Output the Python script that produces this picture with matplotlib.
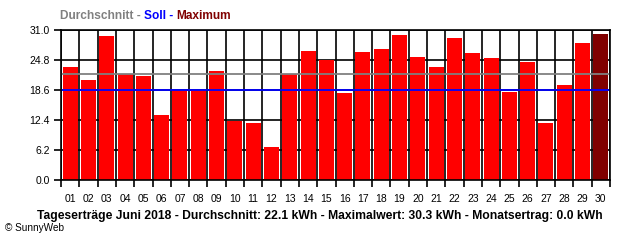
import numpy as np
import matplotlib
matplotlib.use("Agg")
import matplotlib.pyplot as plt

plt.rcParams['font.family'] = ['Liberation Sans', 'DejaVu Sans']

days = ["%02d" % d for d in range(1, 31)]
yields = [23.4, 20.7, 29.8, 21.9, 21.6, 13.5, 18.6, 18.6, 22.6, 12.3,
          11.8, 6.9, 21.9, 26.7, 24.9, 18.0, 26.5, 27.1, 30.0, 25.5,
          23.4, 29.4, 26.3, 25.3, 18.2, 24.4, 11.8, 19.7, 28.4, 30.3]
soll = 18.6
yticks = [0.0, 6.2, 12.4, 18.6, 24.8, 31.0]

title_parts = [("Durchschnitt - ", "#808080"), ("Soll - ", "#0000ff"), ("Maximum", "#800000")]
caption = ("Tageserträge Juni 2018 - Durchschnitt: 22.1 kWh - "
           "Maximalwert: 30.3 kWh - Monatsertrag: 0.0 kWh")

fig = plt.figure(figsize=(6.4, 2.4), dpi=100)
ax = fig.add_axes([61 / 640, 59.7 / 240, 549 / 640, 150 / 240])

x = np.arange(1, len(yields) + 1)
colors = ["#ff0000"] * len(yields)
colors[int(np.argmax(yields))] = "#800000"
ax.bar(x, yields, width=0.82, color=colors, zorder=2)

# grid behind the bars
for t in yticks:
    ax.axhline(t, color="black", lw=1.2, zorder=1)
for b in np.arange(0.5, len(yields) + 1, 1.0):
    ax.axvline(b, color="black", lw=1.2, zorder=1)

ax.axhline(np.mean(yields), color="#808080", lw=1.3, zorder=3)
ax.axhline(soll, color="#0000ff", lw=1.3, zorder=3)

ax.set_xlim(0.5, len(yields) + 0.5)
ax.set_ylim(0, 31)
ax.set_yticks(yticks)
ax.set_yticklabels(["%.1f" % t for t in yticks], fontsize=7.5)
ax.set_xticks(x)
ax.set_xticklabels(days, fontsize=7.5)
ax.set_xticks(np.arange(0.5, len(yields) + 1, 1.0), minor=True)
ax.tick_params(axis="x", which="major", length=0, pad=10)
ax.tick_params(axis="x", which="minor", length=5, width=1.2, direction="out")
ax.tick_params(axis="y", length=5, width=1.2, pad=3)
for s in ax.spines.values():
    s.set_linewidth(1.2)
    s.set_zorder(4)

# multi-coloured legend line, pieces placed one after another
renderer = fig.canvas.get_renderer()
xp = 60
for txt, col in title_parts:
    t = fig.text(xp / 640, 1 - 16 / 240, txt, color=col, fontsize=8.6,
                 fontweight="bold", ha="left", va="center")
    xp = t.get_window_extent(renderer).x1

fig.text(320 / 640, 1 - 216 / 240, caption, fontsize=8.7, fontweight="bold",
         ha="center", va="center")
fig.text(5 / 640, 1 - 228 / 240, "© SunnyWeb", fontsize=7.2, ha="left", va="center")

fig.savefig("out.png", dpi=100)
